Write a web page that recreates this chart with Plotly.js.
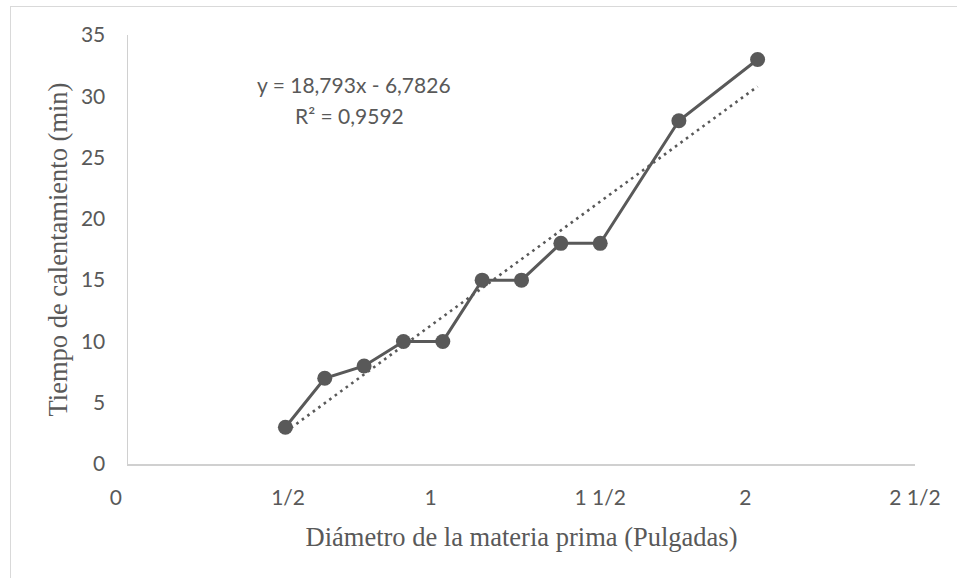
<!DOCTYPE html>
<html>
<head>
<meta charset="utf-8">
<script src="https://cdn.plot.ly/plotly-3.0.1.min.js"></script>
<style>
  html, body { margin: 0; padding: 0; background: #ffffff; overflow: hidden; }
  #chart { width: 957px; height: 578px; }
  #frame { position: absolute; left: 10px; top: 6px; width: 1000px; height: 640px;
           border: 1px solid #d9d9d9; pointer-events: none; }
</style>
</head>
<body>
<div id="chart"></div>
<div id="frame"></div>
<script>
// Diameter of raw material (inches) and heating time (min)
const diametros = [0.5, 0.625, 0.75, 0.875, 1, 1.125, 1.25, 1.375, 1.5, 1.75, 2];
const tiempos   = [3, 7, 8, 10, 10, 15, 15, 18, 18, 28, 33];

// x tick positions and labels (fraction format)
const xTickVals = [0, 0.5, 1, 1.5, 2, 2.5];
const xTickText = ['0\u2007\u2007', '\u00a01/2', '1\u2007\u2007', '1 1/2', '2\u2007\u2007', '2 1/2'];
const yTickVals = [0, 5, 10, 15, 20, 25, 30, 35];

const eqText = 'y = 18,793x - 6,7826';
const r2Text = 'R² = 0,9592';

// least-squares linear trend from the data
const n = diametros.length;
const mx = diametros.reduce((a, b) => a + b, 0) / n;
const my = tiempos.reduce((a, b) => a + b, 0) / n;
let sxy = 0, sxx = 0;
for (let i = 0; i < n; i++) { sxy += (diametros[i] - mx) * (tiempos[i] - my); sxx += (diametros[i] - mx) ** 2; }
const slope = sxy / sxx, intercept = my - slope * mx;
const xMin = Math.min(...diametros), xMax = Math.max(...diametros);
const trendX = [xMin, xMax];
const trendY = trendX.map(x => slope * x + intercept);

const grey = '#595959';
const sans = 'Lato, "Open Sans", sans-serif';
const serif = '"Liberation Serif", "Times New Roman", serif';

const traces = [
  {
    x: trendX, y: trendY, type: 'scatter', mode: 'lines',
    line: { color: grey, width: 2.6, dash: '2.6px,4.2px' },
    hoverinfo: 'skip', showlegend: false
  },
  {
    x: diametros, y: tiempos, type: 'scatter', mode: 'lines+markers',
    line: { color: grey, width: 3 },
    marker: { color: grey, size: 15 },
    showlegend: false
  }
];

const layout = {
  width: 957, height: 578,
  margin: { l: 128, r: 42, t: 35, b: 114 },
  paper_bgcolor: '#ffffff', plot_bgcolor: '#ffffff',
  font: { family: sans, size: 21, color: grey },
  xaxis: {
    range: [0, 2.5], tickvals: xTickVals, ticktext: xTickText,
    showgrid: false, zeroline: false, showline: true, linecolor: '#d0d0d0', linewidth: 1.5,
    ticks: '', ticklabelstandoff: 14,
    tickfont: { family: sans, size: 21, color: grey },
    title: { text: 'Diámetro de la materia prima (Pulgadas)', standoff: 19,
             font: { family: serif, size: 26.5, color: grey } }
  },
  yaxis: {
    range: [0, 35], tickvals: yTickVals,
    showgrid: false, zeroline: false, showline: true, linecolor: '#d0d0d0', linewidth: 1.5,
    ticks: '', ticklabelstandoff: 17,
    tickfont: { family: sans, size: 21, color: grey },
    title: { text: 'Tiempo de calentamiento (min)', standoff: 5,
             font: { family: serif, size: 26.5, color: grey } }
  },
  annotations: [
    { xref: 'paper', yref: 'paper', x: (354 - 128) / 787, y: (464 - 84) / 429,
      text: eqText, showarrow: false, xanchor: 'center', yanchor: 'middle',
      font: { family: sans, size: 21, color: grey } },
    { xref: 'paper', yref: 'paper', x: (349 - 128) / 787, y: (464 - 115) / 429,
      text: r2Text, showarrow: false, xanchor: 'center', yanchor: 'middle',
      font: { family: sans, size: 21, color: grey } }
  ]
};

Plotly.newPlot('chart', traces, layout, { displayModeBar: false, staticPlot: true });
</script>
</body>
</html>
